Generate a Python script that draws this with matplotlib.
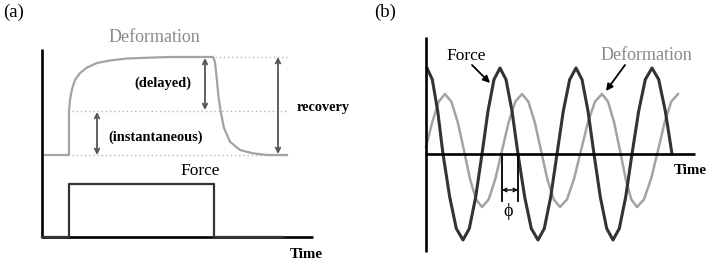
"""
Creep/recovery (a) and oscillatory force/deformation (b) schematic.
All coordinates are in figure pixels (709 x 263), y pointing down.
"""

import matplotlib
matplotlib.use("Agg")
import matplotlib.pyplot as plt

# ---------------------------------------------------------------------------
# Data (pixel units)
# ---------------------------------------------------------------------------
# panel (a): deformation (creep then recovery)
DEF_A_X = [45, 69, 69, 70, 72, 75, 80, 87, 97, 110, 127, 145, 170, 213,
           215, 216.7, 218.3, 220.7, 224, 230, 240, 253, 267, 287]
DEF_A_Y = [155, 155, 111, 100, 89, 80, 73, 67.5, 63, 60.5, 58.5, 57.8, 57, 57,
           62, 78, 95, 111.7, 128, 141.7, 150, 153.3, 155, 155]

# panel (a): force step
FORCE_A_X = [42, 69, 69, 214, 214, 283]
FORCE_A_Y = [237, 237, 184, 184, 237, 237]

# reference levels (top, instantaneous, baseline)
LEVEL_Y = [57, 111, 155]
LEVEL_X0 = [215, 72, 72]
LEVEL_X1 = [287, 287, 287]

# panel (b): force oscillation
FORCE_B_X = [427, 432.3, 437.7, 443, 449.7, 456.3, 463, 469.3, 475.7, 482,
             488, 494, 500, 506, 512, 518, 524.7, 531.3, 538, 544.3, 550.7,
             557, 563.3, 569.7, 576, 582, 588, 594, 600.3, 606.7, 613, 619.3,
             625.7, 632, 638.7, 645.3, 652, 658.7, 665.3, 672]
FORCE_B_Y = [68, 79.5, 111, 154, 197, 228.5, 240, 228.5, 197, 154,
             111, 79.5, 68, 79.5, 111, 154, 197, 228.5, 240, 228.5, 197,
             154, 111, 79.5, 68, 79.5, 111, 154, 197, 228.5, 240, 228.5,
             197, 154, 111, 79.5, 68, 79.5, 111, 154]

# panel (b): deformation oscillation (lagging)
DEF_B_X = [426, 432.3, 438.7, 445, 451.3, 457.7, 464, 470, 476, 482,
           488.7, 495.3, 502, 508.7, 515.3, 522, 528.3, 534.7, 541, 547.3,
           553.7, 560, 567, 574, 581, 588, 595, 602, 608, 614, 620, 625.7,
           631.3, 637, 644, 651, 658, 664.7, 671.3, 678]
DEF_B_Y = [147, 122, 101.6, 94, 101.6, 122, 150.5, 179, 199.4, 207,
           199.4, 179, 150.5, 122, 101.6, 94, 101.6, 122, 150.5, 179,
           199.4, 207, 199.4, 179, 150.5, 122, 101.6, 94, 101.6, 122, 150.5, 179,
           199.4, 207, 199.4, 179, 150.5, 122, 101.6, 94]

# phase marker crossings
PHI_X = [502, 518]

# ---------------------------------------------------------------------------
# Styles
# ---------------------------------------------------------------------------
SERIF = ["Liberation Serif", "DejaVu Serif"]
GRAY = "#a3a3a3"
TEXT_GRAY = "#8a8a8a"
DARK = "#333333"
ARROW = "#555555"
DOT = "#b5b5b5"

fig = plt.figure(figsize=(7.09, 2.63), dpi=100)
ax = fig.add_axes([0, 0, 1, 1])
ax.set_xlim(0, 709)
ax.set_ylim(263, 0)
ax.axis("off")


def text(x, y, s, size, color="black", weight="normal"):
    ax.text(x, y, s, fontsize=size, color=color, fontweight=weight,
            family=SERIF, ha="center", va="center")


def dbl_arrow(x0, y0, x1, y1, color=ARROW, lw=1.3, scale=8):
    ax.annotate("", xy=(x1, y1), xytext=(x0, y0),
                arrowprops=dict(arrowstyle="<->", color=color, lw=lw,
                                mutation_scale=scale,
                                shrinkA=0, shrinkB=0))


# ---------------------------------------------------------------------------
# Panel (a)
# ---------------------------------------------------------------------------
text(14, 12, "(a)", 13.5)

for y, x0, x1 in zip(LEVEL_Y, LEVEL_X0, LEVEL_X1):
    ax.plot([x0, x1], [y, y], color=DOT, lw=1.0, ls=(0, (1, 2)))

ax.plot([42, 42], [49, 238], color="black", lw=1.9, solid_capstyle="butt")
ax.plot([42, 313], [237, 237], color="black", lw=1.9, solid_capstyle="butt")

ax.plot(DEF_A_X, DEF_A_Y, color=GRAY, lw=1.6)
ax.plot(FORCE_A_X, FORCE_A_Y, color=DARK, lw=1.6)

dbl_arrow(97, 112, 97, 155)
dbl_arrow(205, 58, 205, 110)
dbl_arrow(278, 57, 278, 154)

text(154, 38, "Deformation", 13, color=TEXT_GRAY)
text(163, 83, "(delayed)", 10.4, weight="bold")
text(156, 137, "(instantaneous)", 10.4, weight="bold")
text(323, 107, "recovery", 10.3, weight="bold")
text(200, 171, "Force", 12.5)
text(306, 254, "Time", 10.8, weight="bold")

# ---------------------------------------------------------------------------
# Panel (b)
# ---------------------------------------------------------------------------
text(385, 12, "(b)", 13.5)

ax.plot(DEF_B_X, DEF_B_Y, color=GRAY, lw=1.8)
ax.plot(FORCE_B_X, FORCE_B_Y, color=DARK, lw=2.2)

ax.plot([426, 426], [37, 252], color="black", lw=1.9, solid_capstyle="butt")
ax.plot([426, 695], [154, 154], color="black", lw=1.9, solid_capstyle="butt")

for x in PHI_X:
    ax.plot([x, x], [154, 201], color="black", lw=1.3)
dbl_arrow(PHI_X[0], 190, PHI_X[1], 190, color="black", lw=1.0, scale=6)
text(508, 212, "ϕ", 13)

ax.annotate("", xy=(490, 83), xytext=(472, 65),
            arrowprops=dict(arrowstyle="-|>", color="black", lw=1.3,
                            mutation_scale=10, shrinkA=0, shrinkB=0))
ax.annotate("", xy=(606, 91), xytext=(625, 65),
            arrowprops=dict(arrowstyle="-|>", color="black", lw=1.3,
                            mutation_scale=10, shrinkA=0, shrinkB=0))

text(466, 56, "Force", 12.5)
text(646, 56, "Deformation", 13, color=TEXT_GRAY)
text(690, 171, "Time", 10.8, weight="bold")

fig.savefig("out.png", dpi=100)
plt.close(fig)
